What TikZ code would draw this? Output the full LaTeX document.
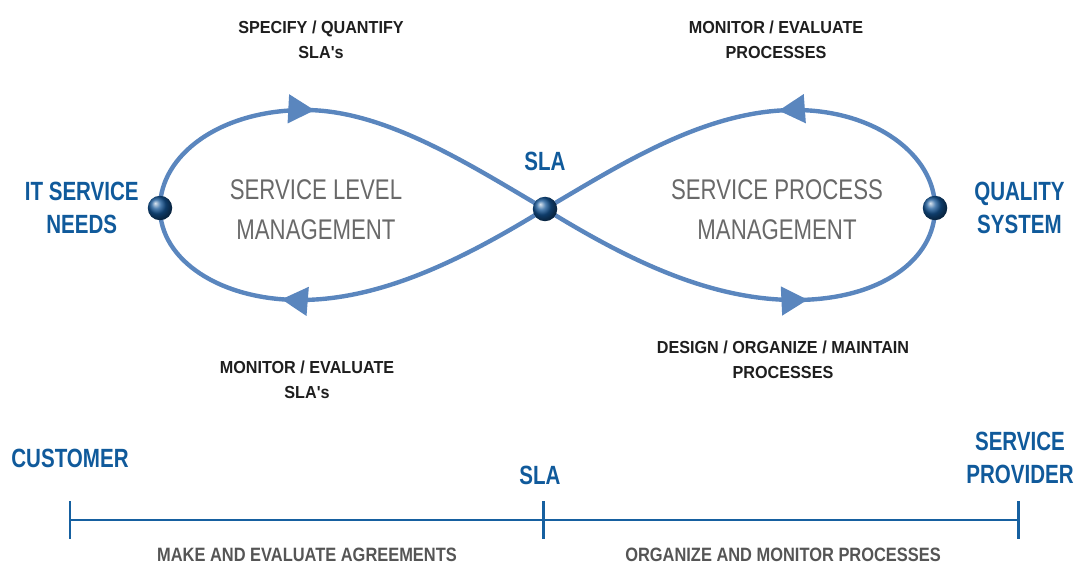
\documentclass[tikz,border=0pt]{standalone}
\usepackage{fontspec}
\newfontfamily\taskfont[FakeStretch=0.93]{Liberation Sans}
\newfontfamily\phasefont[FakeStretch=0.85]{Liberation Sans}
\newfontfamily\partyfont[FakeStretch=0.78]{Liberation Sans}
\usepackage{tikz}
\definecolor{loopblue}{RGB}{90,134,190}
\definecolor{textblue}{RGB}{16,90,155}
\definecolor{dotblue}{RGB}{20,85,150}
\definecolor{lineblue}{RGB}{22,96,160}
\definecolor{darktext}{RGB}{30,30,30}
\definecolor{areagray}{RGB}{105,105,105}
\definecolor{phasegray}{RGB}{85,85,85}
\tikzset{
    dot/.style={circle,inner sep=0pt,minimum size=0.49cm,shading=ball,ball color=dotblue},
    task/.style={align=center,text=darktext,font=\taskfont\bfseries\fontsize{9.9}{14.2}\selectfont},
    party/.style={align=center,text=textblue,font=\partyfont\bfseries\fontsize{15}{18.5}\selectfont},
    area/.style={align=center,text=areagray,font=\partyfont\fontsize{16.2}{22.7}\selectfont},
    phase/.style={text=phasegray,font=\phasefont\bfseries\fontsize{11}{13}\selectfont},
    loopline/.style={color=loopblue,line width=2.5pt},
    flow/.style={loopline,decoration={markings,mark=at position #1 with {\arrow{Triangle[length=15pt,width=16pt]}}},postaction={decorate}},
    axis/.style={draw=lineblue,line width=1.7pt},
}
\usetikzlibrary{arrows.meta,decorations.markings}
\usetikzlibrary{positioning,backgrounds}

\begin{document}
\begin{tikzpicture}[x=0.02cm,y=-0.02cm]
\useasboundingbox (0,0) rectangle (1078,567);
% the figure eight
\node[dot] (need) at (160,208) {};
\node[dot] (sla) at (545,209) {};
\node[dot] (qual) at (935,208) {};
\begin{pgfonlayer}{background}
\draw[flow=0.445] (need.center) .. controls (160,155) and (220,110) .. (305,110) .. controls (385,110) and (470,165) .. (sla.center);
\draw[flow=0.63] (sla.center) .. controls (470,255) and (385,300) .. (300,300) .. controls (220,300) and (160,260) .. (need.center);
\draw[flow=0.62] (sla.center) .. controls (620,255) and (705,300) .. (795,300) .. controls (880,300) and (935,260) .. (qual.center);
\draw[flow=0.445] (qual.center) .. controls (935,155) and (875,110) .. (795,110) .. controls (705,110) and (620,165) .. (sla.center);
\end{pgfonlayer}
\node[party] (needtxt) [left=0.05cm of need] {IT SERVICE\\NEEDS};
\node[party] (qualtxt) [right=0.41cm of qual] {QUALITY\\SYSTEM};
\node[party] (slatxt) [above=0.38cm of sla] {SLA};
\node[area] (slm) at (316,210) {SERVICE LEVEL\\MANAGEMENT};
\node[area] (spm) at (777,210) {SERVICE PROCESS\\MANAGEMENT};
\node[task] (specify) at (321,40) {SPECIFY / QUANTIFY\\SLA's};
\node[task] (monproc) at (776,40) {MONITOR / EVALUATE\\PROCESSES};
\node[task] (monsla) at (307,380) {MONITOR / EVALUATE\\SLA's};
\node[task] (design) at (783,360) {DESIGN / ORGANIZE / MAINTAIN\\PROCESSES};
% the time line
\coordinate (cust) at (70,520);
\coordinate (mid) at (543,520);
\coordinate (prov) at (1018,520);
\draw[axis] (cust) -- (prov);
\foreach \p in {cust,mid,prov}
  \draw[axis] (\p) ++(0,-19) -- ++(0,38);
\node[party] (custtxt) at (70,458) {CUSTOMER};
\node[party] (midtxt) at (540,475) {SLA};
\node[party] (provtxt) at (1020,458) {SERVICE\\PROVIDER};
\node[phase] (make) at (307,555) {MAKE AND EVALUATE AGREEMENTS};
\node[phase] (organize) at (783,555) {ORGANIZE AND MONITOR PROCESSES};
\end{tikzpicture}
\end{document}
